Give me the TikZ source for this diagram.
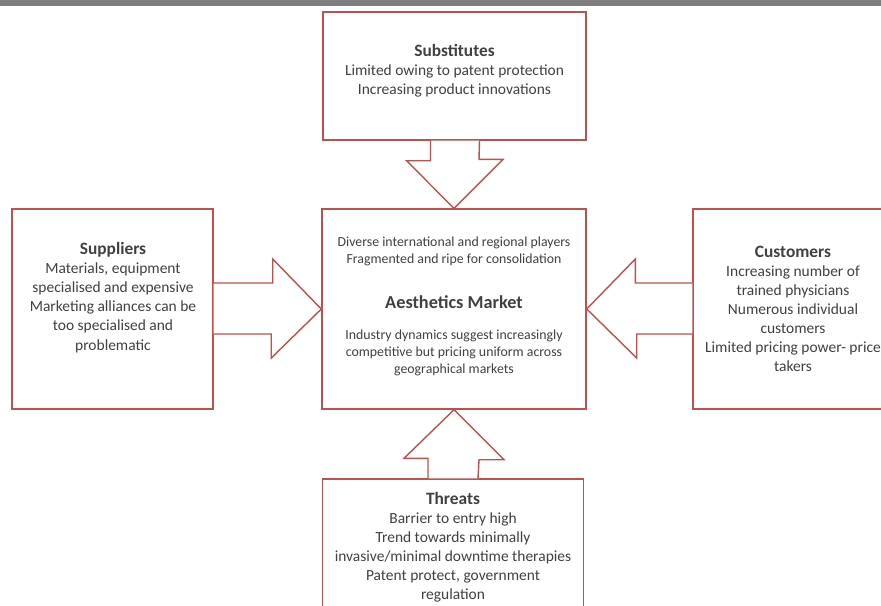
\documentclass[tikz,border=0pt]{standalone}
\usepackage{fontspec}
\setmainfont{Carlito}
\usepackage{tikz}
\usetikzlibrary{calc}
\definecolor{boxred}{HTML}{C0504D}
\definecolor{txtgray}{HTML}{404040}
\definecolor{bargray}{HTML}{7F7F7F}
\begin{document}
\begin{tikzpicture}[x=0.03cm,y=-0.03cm,
  box/.style={draw=boxred,line width=1.2pt,rectangle,inner sep=0pt},
  blockarr/.style={draw=boxred,fill=white,line width=1.2pt,line join=miter},
  txt/.style={text=txtgray,align=center,font=\fontsize{13.2}{16.3}\selectfont},
  smalltxt/.style={text=txtgray,align=center,font=\fontsize{11.8}{14.5}\selectfont}]
\useasboundingbox (0,0) rectangle (881,605);
\clip (0,0) rectangle (881,605);
\fill[bargray] (0,0) rectangle (881,6);
\node (subs) [box,minimum width=7.89cm,minimum height=3.84cm] at (454.5,76) {};
\node (mkt) [box,minimum width=7.92cm,minimum height=6cm] at (454,309) {};
\node (supp) [box,minimum width=6.03cm,minimum height=6cm] at (112.5,309) {};
\node (cust) [box,minimum width=6cm,minimum height=6cm] at (793,309) {};
\node (thr) [box,minimum width=7.83cm,minimum height=6cm] at (453,579) {};
\path[blockarr] ($(subs.south)+(-24,0)$) -- ++(0,20) -- ++(-24,0) -- (mkt.north) -- ++(49,-49) -- ++(-24,0) -- ($(subs.south)+(25,0)$);
\path[blockarr] ($(supp.east)+(0,-26)$) -- ++(59,0) -- ++(0,-24) -- (mkt.west) -- ++(-50,49) -- ++(0,-24) -- ($(supp.east)+(0,25)$);
\path[blockarr] ($(cust.west)+(0,-26)$) -- ++(-57,0) -- ++(0,-24) -- (mkt.east) -- ++(50,49) -- ++(0,-24) -- ($(cust.west)+(0,25)$);
\path[blockarr] ($(thr.north)+(-25,0)$) -- ++(0,-20) -- ++(-24,0) -- (mkt.south) -- ++(50,50) -- ++(-25,0) -- ($(thr.north)+(25,0)$);
\node (substxt) [txt] at (454.5,70.5) {{\fontsize{14.8}{17}\selectfont\bfseries Substitutes}\\Limited owing to patent protection\\Increasing product innovations};
\node (supptxt) [txt] at (113,297.5) {{\fontsize{14.8}{17}\selectfont\bfseries Suppliers}\\Materials, equipment\\specialised and expensive\\Marketing alliances can be\\too specialised and\\problematic};
\node (custtxt) [txt] at (793,309) {{\fontsize{14.8}{17}\selectfont\bfseries Customers}\\Increasing number of\\trained physicians\\Numerous individual\\customers\\Limited pricing power- price\\takers};
\node (thrtxt) [txt] at (453,547) {{\fontsize{14.8}{17}\selectfont\bfseries Threats}\\Barrier to entry high\\Trend towards minimally\\invasive/minimal downtime therapies\\Patent protect, government\\regulation};
\node (mkttop) [smalltxt] at (454,251.5) {Diverse international and regional players\\Fragmented and ripe for consolidation};
\node (mktttl) [text=txtgray,font=\fontsize{15.6}{17}\selectfont\bfseries] at (454,302) {Aesthetics Market};
\node (mktbot) [smalltxt] at (454,353) {Industry dynamics suggest increasingly\\competitive but pricing uniform across\\geographical markets};
\end{tikzpicture}
\end{document}
